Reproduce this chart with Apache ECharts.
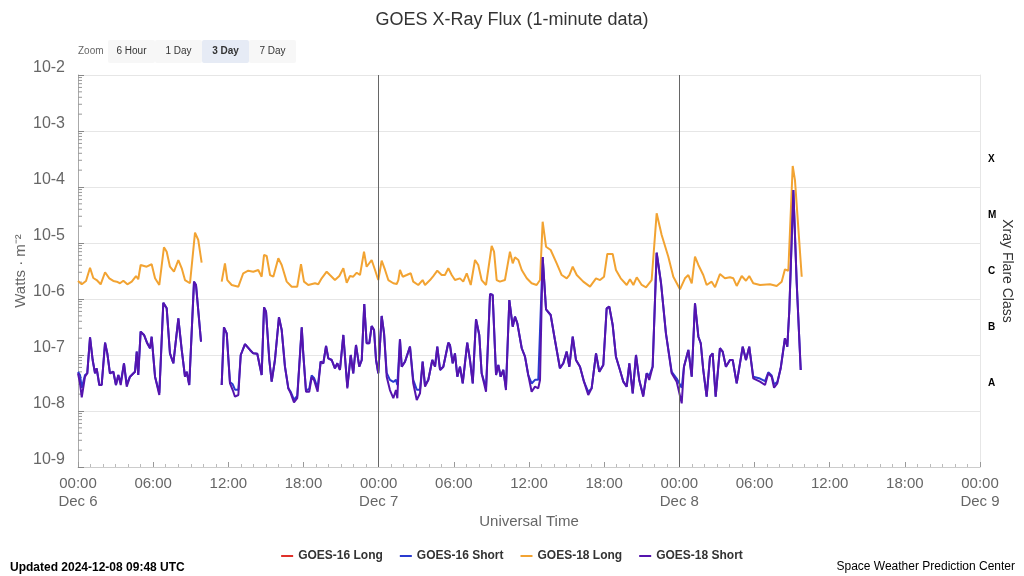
<!DOCTYPE html>
<html>
<head>
<meta charset="utf-8">
<title>GOES X-Ray Flux</title>
<script src="https://cdn.jsdelivr.net/npm/echarts@6/dist/echarts.min.js"></script>
<style>
  html, body { margin: 0; padding: 0; background: #fff; }
  #chart { width: 1024px; height: 576px; }
</style>
</head>
<body>
<div id="chart"></div>
<script>
// hours since Dec 6 00:00 UTC, flux in W/m^2 (null = data gap)
const longHours = [
  0, 0.30, 0.64, 0.96, 1.22, 1.49, 1.81, 2.16, 2.50, 2.82,
  3.09, 3.35, 3.62, 3.94, 4.29, 4.63, 4.81, 5.00, 5.48, 5.88,
  6.15, 6.49, 6.86, 7.08, 7.34, 7.66, 8.01, 8.28, 8.54, 8.94,
  9.34, 9.60, 9.87, 10.6, 11.47, 11.73, 11.92, 12.27, 12.80, 13.19,
  13.59, 13.99, 14.39, 14.66, 14.85, 15.06, 15.33, 15.59, 15.99, 16.26,
  16.66, 17.06, 17.50, 17.80, 18.04, 18.38, 18.92, 19.18, 19.45, 19.85,
  20.11, 20.51, 20.86, 21.18, 21.45, 21.71, 21.97, 22.25, 22.51, 22.83,
  23.04, 23.44, 23.71, 23.97, 24.24, 24.51, 24.77, 25.17, 25.44, 25.57,
  25.70, 25.92, 26.24, 26.56, 26.76, 27.16, 27.51, 27.70, 28.10, 28.36,
  28.68, 29.03, 29.29, 29.56, 29.83, 30.09, 30.49, 30.75, 31.03, 31.35,
  31.69, 31.95, 32.22, 32.57, 33.02, 33.21, 33.42, 33.68, 34.08, 34.48,
  34.70, 34.88, 35.15, 35.42, 35.82, 36.21, 36.61, 36.88, 37.09, 37.36,
  37.73, 38.21, 38.61, 39.01, 39.22, 39.49, 39.81, 40.33, 40.87, 41.35,
  41.67, 41.99, 42.25, 42.68, 42.94, 43.32, 43.80, 44.06, 44.33, 44.60,
  45.00, 45.34, 45.79, 46.19, 46.59, 47.12, 47.52, 48.05, 48.45, 48.72,
  48.99, 49.25, 49.52, 49.91, 50.18, 50.58, 50.85, 51.24, 51.64, 52.04,
  52.31, 52.58, 52.98, 53.32, 53.58, 53.90, 54.44, 55.24, 55.77, 56.17,
  56.43, 56.70, 57.05, 57.23, 57.77
];
const g18Long = [
  2.10e-6, 1.83e-6, 2.10e-6, 3.62e-6, 2.37e-6, 2.18e-6, 1.83e-6, 3.00e-6, 2.34e-6, 2.10e-6,
  2.04e-6, 1.91e-6, 2.12e-6, 1.83e-6, 2.04e-6, 2.57e-6, 2.25e-6, 4.05e-6, 3.77e-6, 4.17e-6,
  2.34e-6, 1.78e-6, 8.38e-6, 7.00e-6, 3.77e-6, 3.07e-6, 4.97e-6, 3.53e-6, 2.18e-6, 1.91e-6,
  1.53e-5, 1.13e-5, 4.45e-6, null, 2.04e-6, 4.34e-6, 2.18e-6, 1.78e-6, 1.66e-6, 2.88e-6,
  3.20e-6, 3.07e-6, 3.30e-6, 2.50e-6, 6.11e-6, 5.86e-6, 2.68e-6, 2.50e-6, 5.33e-6, 4.05e-6,
  2.04e-6, 1.66e-6, 1.66e-6, 4.17e-6, 2.04e-6, 1.78e-6, 1.91e-6, 1.83e-6, 2.34e-6, 3.07e-6,
  2.68e-6, 2.18e-6, 2.57e-6, 3.53e-6, 1.95e-6, 2.57e-6, 2.50e-6, 2.95e-6, 2.68e-6, 7.00e-6,
  3.77e-6, 4.97e-6, 3.30e-6, 2.18e-6, 4.83e-6, 3.30e-6, 2.18e-6, 1.91e-6, 1.85e-6, 2.18e-6,
  3.30e-6, 2.50e-6, 2.68e-6, 2.88e-6, 2.04e-6, 1.78e-6, 2.18e-6, 1.78e-6, 2.18e-6, 2.57e-6,
  3.20e-6, 2.68e-6, 2.68e-6, 3.53e-6, 2.68e-6, 2.18e-6, 2.34e-6, 2.04e-6, 2.88e-6, 1.78e-6,
  4.97e-6, 4.05e-6, 2.18e-6, 1.78e-6, 8.84e-6, 7.00e-6, 2.18e-6, 2.04e-6, 2.18e-6, 7.00e-6,
  4.34e-6, 5.55e-6, 4.97e-6, 3.30e-6, 2.34e-6, 1.91e-6, 1.78e-6, 2.18e-6, 2.40e-5, 8.59e-6,
  7.50e-6, 4.34e-6, 2.68e-6, 2.34e-6, 2.68e-6, 3.77e-6, 2.68e-6, 2.04e-6, 1.66e-6, 2.34e-6,
  2.18e-6, 2.50e-6, 6.36e-6, 6.36e-6, 3.30e-6, 2.34e-6, 1.78e-6, 2.25e-6, 1.78e-6, 2.44e-6,
  1.78e-6, 1.62e-6, 2.18e-6, 3.39e-5, 1.39e-5, 5.69e-6, 2.50e-6, 1.49e-6, 2.34e-6, 2.68e-6,
  1.91e-6, 5.69e-6, 4.05e-6, 2.68e-6, 1.78e-6, 2.04e-6, 1.62e-6, 2.79e-6, 2.34e-6, 2.44e-6,
  2.34e-6, 1.71e-6, 2.57e-6, 2.12e-6, 2.57e-6, 1.91e-6, 1.78e-6, 1.83e-6, 1.71e-6, 2.04e-6,
  3.39e-6, 3.20e-6, 2.37e-4, 1.33e-4, 2.50e-6
];
const g16Long = [];

const shortHours = [
  0, 0.16, 0.30, 0.56, 0.74, 0.96, 1.17, 1.36, 1.49, 1.70,
  1.89, 2.16, 2.34, 2.55, 2.82, 3.03, 3.22, 3.41, 3.67, 3.89,
  4.15, 4.55, 4.69, 4.81, 5.00, 5.27, 5.53, 5.75, 5.88, 6.15,
  6.49, 6.81, 7.08, 7.34, 7.61, 8.01, 8.28, 8.54, 8.68, 8.88,
  9.26, 9.42, 9.82, 10.6, 11.47, 11.65, 11.87, 12.13, 12.35, 12.53,
  12.80, 12.99, 13.33, 13.73, 13.99, 14.31, 14.66, 14.85, 15.01, 15.27,
  15.46, 15.72, 16.04, 16.26, 16.52, 16.79, 16.98, 17.24, 17.50, 17.86,
  17.98, 18.20, 18.46, 18.65, 18.84, 19.13, 19.37, 19.58, 19.80, 19.98,
  20.25, 20.51, 20.70, 20.91, 21.18, 21.50, 21.77, 21.97, 22.19, 22.45,
  22.65, 22.85, 23.04, 23.25, 23.44, 23.63, 23.79, 23.97, 24.24, 24.43,
  24.64, 24.90, 25.17, 25.38, 25.49, 25.70, 25.84, 26.10, 26.50, 26.76,
  27.04, 27.30, 27.51, 27.70, 27.96, 28.28, 28.50, 28.68, 28.90, 29.16,
  29.29, 29.56, 29.69, 29.91, 30.09, 30.28, 30.49, 30.71, 31.07, 31.29,
  31.51, 31.77, 32.03, 32.22, 32.57, 32.89, 33.10, 33.37, 33.55, 33.74,
  33.95, 34.16, 34.43, 34.70, 34.88, 35.07, 35.42, 35.68, 35.94, 36.21,
  36.48, 36.74, 36.88, 37.09, 37.36, 37.73, 38.07, 38.47, 38.74, 39.01,
  39.22, 39.49, 39.75, 40.07, 40.39, 40.73, 41.00, 41.35, 41.61, 41.93,
  42.20, 42.41, 42.68, 42.94, 43.26, 43.53, 43.80, 44.01, 44.28, 44.54,
  44.80, 45.12, 45.39, 45.60, 45.87, 46.19, 46.54, 46.93, 47.39, 47.79,
  48.19, 48.37, 48.72, 48.99, 49.25, 49.52, 49.71, 49.91, 50.18, 50.45,
  50.66, 50.90, 51.24, 51.46, 51.72, 52.04, 52.26, 52.58, 53.06, 53.32,
  53.58, 53.90, 54.44, 54.84, 55.10, 55.37, 55.56, 55.82, 56.09, 56.43,
  56.62, 56.78, 57.10, 57.37, 57.69
];
const g18Short = [
  4.71e-8, 3.12e-8, 1.75e-8, 4.10e-8, 4.71e-8, 2.07e-7, 8.14e-8, 4.71e-8, 5.79e-8, 2.91e-8,
  2.91e-8, 1.66e-7, 1.07e-7, 4.71e-8, 5.03e-8, 2.91e-8, 4.39e-8, 2.91e-8, 7.11e-8, 2.72e-8,
  4.10e-8, 5.03e-8, 1.15e-7, 4.39e-8, 2.61e-7, 2.28e-7, 1.62e-7, 1.32e-7, 2.12e-7, 4.10e-8,
  1.93e-8, 8.59e-7, 6.82e-7, 1.07e-7, 7.11e-8, 4.52e-7, 1.23e-7, 4.10e-8, 5.03e-8, 2.91e-8,
  2.04e-6, 1.78e-6, 1.73e-7, null, 2.91e-8, 3.12e-7, 2.44e-7, 3.12e-8, 2.37e-8, 1.80e-8,
  1.93e-8, 1.00e-7, 1.57e-7, 1.23e-7, 1.07e-7, 1.05e-7, 4.39e-8, 7.11e-7, 5.93e-7, 8.14e-8,
  3.34e-8, 8.14e-8, 4.71e-7, 2.79e-7, 6.18e-8, 2.54e-8, 2.07e-8, 1.43e-8, 1.69e-8, 3.12e-7,
  1.07e-7, 2.21e-8, 2.21e-8, 4.00e-8, 3.58e-8, 2.21e-8, 7.59e-8, 7.11e-8, 1.45e-7, 8.73e-8,
  8.14e-8, 5.79e-8, 7.11e-8, 5.40e-8, 2.28e-7, 2.54e-8, 1.00e-7, 4.71e-8, 1.51e-7, 6.18e-8,
  8.14e-8, 8.14e-7, 1.62e-7, 1.62e-7, 3.29e-7, 2.79e-7, 8.14e-8, 4.71e-8, 4.97e-7, 2.44e-7,
  4.10e-8, 2.37e-8, 1.69e-8, 2.37e-8, 1.69e-8, 1.91e-7, 6.18e-8, 7.59e-8, 1.41e-7, 3.12e-8,
  1.57e-8, 2.07e-8, 7.59e-8, 2.72e-8, 3.58e-8, 8.14e-8, 6.18e-8, 1.41e-7, 5.40e-8, 6.18e-8,
  6.18e-8, 1.66e-7, 1.51e-7, 7.11e-8, 1.07e-7, 4.10e-8, 6.18e-8, 3.12e-8, 1.66e-7, 8.14e-8,
  3.12e-8, 4.34e-7, 2.28e-7, 4.71e-8, 2.21e-8, 1.23e-6, 1.18e-6, 4.39e-8, 6.62e-8, 4.10e-8,
  5.40e-8, 2.37e-8, 9.59e-7, 3.20e-7, 4.83e-7, 3.68e-7, 1.32e-7, 9.33e-8, 4.39e-8, 2.21e-8,
  2.72e-8, 2.54e-8, 3.58e-8, 5.60e-6, 6.50e-7, 5.18e-7, 1.85e-7, 5.79e-8, 7.11e-8, 1.15e-7,
  6.18e-8, 2.12e-7, 8.14e-8, 6.18e-8, 3.34e-8, 1.93e-8, 2.54e-8, 1.07e-7, 5.03e-8, 6.62e-8,
  6.82e-7, 7.29e-7, 3.43e-7, 9.33e-8, 5.40e-8, 3.34e-8, 2.72e-8, 7.11e-8, 2.07e-8, 1.00e-7,
  3.58e-8, 1.80e-8, 4.71e-8, 3.58e-8, 6.18e-8, 6.71e-6, 1.91e-6, 2.44e-7, 4.71e-8, 3.34e-8,
  1.37e-8, 6.18e-8, 1.23e-7, 4.10e-8, 8.38e-7, 2.12e-7, 1.62e-7, 5.40e-8, 1.80e-8, 9.33e-8,
  1.07e-7, 1.80e-8, 1.32e-7, 1.15e-7, 6.18e-8, 8.14e-8, 8.14e-8, 3.12e-8, 1.41e-7, 8.14e-8,
  1.41e-7, 3.84e-8, 3.34e-8, 2.91e-8, 4.71e-8, 4.10e-8, 2.60e-8, 3.12e-8, 5.79e-8, 1.99e-7,
  1.41e-7, 6.36e-7, 8.84e-5, 1.91e-6, 5.40e-8
];
const g16Short = [
  5.00e-8, 4.40e-8, 2.60e-8, 4.40e-8, 4.71e-8, 2.07e-7, 8.14e-8, 4.71e-8, 5.79e-8, 2.91e-8,
  2.91e-8, 1.66e-7, 1.07e-7, 4.71e-8, 5.03e-8, 2.91e-8, 4.39e-8, 3.20e-8, 7.11e-8, 3.00e-8,
  4.10e-8, 5.03e-8, 1.15e-7, 4.39e-8, 2.61e-7, 2.28e-7, 1.62e-7, 1.32e-7, 2.12e-7, 4.10e-8,
  2.10e-8, 8.59e-7, 6.82e-7, 1.07e-7, 7.11e-8, 4.52e-7, 1.23e-7, 4.10e-8, 5.03e-8, 2.91e-8,
  2.04e-6, 1.78e-6, 1.73e-7, null, 2.91e-8, 3.12e-7, 2.44e-7, 3.30e-8, 3.00e-8, 2.40e-8,
  2.40e-8, 1.00e-7, 1.57e-7, 1.23e-7, 1.07e-7, 1.05e-7, 4.39e-8, 7.11e-7, 5.93e-7, 8.14e-8,
  3.34e-8, 8.14e-8, 4.71e-7, 2.79e-7, 6.18e-8, 2.54e-8, 2.20e-8, 1.60e-8, 1.85e-8, 3.12e-7,
  1.07e-7, 2.30e-8, 2.50e-8, 4.30e-8, 3.90e-8, 2.60e-8, 7.59e-8, 7.11e-8, 1.45e-7, 8.73e-8,
  8.14e-8, 5.79e-8, 7.11e-8, 5.40e-8, 2.28e-7, 2.70e-8, 1.00e-7, 4.71e-8, 1.51e-7, 6.18e-8,
  8.14e-8, 8.14e-7, 1.62e-7, 1.62e-7, 3.29e-7, 2.79e-7, 8.14e-8, 4.71e-8, 4.97e-7, 2.44e-7,
  4.80e-8, 3.60e-8, 3.30e-8, 3.60e-8, 2.90e-8, 1.91e-7, 6.18e-8, 7.59e-8, 1.41e-7, 3.60e-8,
  2.40e-8, 2.40e-8, 7.59e-8, 2.90e-8, 3.58e-8, 8.14e-8, 6.18e-8, 1.41e-7, 5.40e-8, 6.18e-8,
  6.18e-8, 1.66e-7, 1.51e-7, 7.11e-8, 1.07e-7, 4.10e-8, 6.18e-8, 3.12e-8, 1.66e-7, 8.14e-8,
  3.12e-8, 4.34e-7, 2.28e-7, 4.71e-8, 2.60e-8, 1.23e-6, 1.18e-6, 4.39e-8, 6.62e-8, 4.10e-8,
  5.40e-8, 2.60e-8, 9.59e-7, 3.20e-7, 4.83e-7, 3.68e-7, 1.32e-7, 9.33e-8, 4.39e-8, 3.10e-8,
  3.60e-8, 3.60e-8, 3.58e-8, 5.60e-6, 6.50e-7, 5.18e-7, 1.85e-7, 5.79e-8, 7.11e-8, 1.15e-7,
  6.18e-8, 2.12e-7, 8.14e-8, 6.18e-8, 3.34e-8, 2.20e-8, 2.54e-8, 1.07e-7, 5.03e-8, 6.62e-8,
  6.82e-7, 7.29e-7, 3.43e-7, 9.33e-8, 5.40e-8, 3.34e-8, 2.72e-8, 7.11e-8, 2.07e-8, 1.00e-7,
  3.58e-8, 1.90e-8, 4.71e-8, 4.30e-8, 6.18e-8, 6.71e-6, 1.91e-6, 2.44e-7, 5.00e-8, 3.80e-8,
  2.60e-8, 6.18e-8, 1.23e-7, 4.10e-8, 8.38e-7, 2.12e-7, 1.62e-7, 5.40e-8, 1.80e-8, 9.33e-8,
  1.07e-7, 1.80e-8, 1.32e-7, 1.15e-7, 6.18e-8, 8.14e-8, 8.14e-8, 3.12e-8, 1.41e-7, 8.14e-8,
  1.41e-7, 4.10e-8, 3.80e-8, 3.40e-8, 4.90e-8, 4.30e-8, 3.00e-8, 3.30e-8, 5.79e-8, 1.99e-7,
  1.41e-7, 6.36e-7, 8.84e-5, 1.91e-6, 5.40e-8
];

// axis labels
const dayNames = ['Dec 6', 'Dec 7', 'Dec 8', 'Dec 9'];
const flareClasses = ['', 'A', 'B', 'C', 'M', 'X', ''];
const dayLines = [24, 48];
const decades = [-9, -8, -7, -6, -5, -4, -3];
const zoomButtons = ['6 Hour', '1 Day', '3 Day', '7 Day'];
const selectedZoom = '3 Day';

const FONT = '"Liberation Sans", Arial, sans-serif';

function toPairs(hours, vals) {
  return hours.map((h, i) => [h, vals[i] == null ? '-' : vals[i]]);
}

// log spaced minor ticks on the flux axis
const minorTickVals = [];
decades.forEach((d) => {
  for (let k = 2; k <= 9; k++) {
    minorTickVals.push([0, k * Math.pow(10, d)]);
  }
});

const chartInstance = echarts.init(document.getElementById('chart'));

const graphics = [
  {
    type: 'text', left: 10, top: 562,
    style: { text: 'Updated 2024-12-08 09:48 UTC', font: 'bold 12px ' + FONT, fill: '#000' }
  },
  {
    type: 'text', right: 9, top: 561,
    style: { text: 'Space Weather Prediction Center', font: '12px ' + FONT, fill: '#000' }
  },
  {
    type: 'text', left: 78, top: 46,
    style: { text: 'Zoom', font: '10px ' + FONT, fill: '#666' }
  }
];
zoomButtons.forEach((b, i) => {
  const x = 108 + i * 47;
  const sel = b === selectedZoom;
  graphics.push({
    type: 'rect', shape: { x: x, y: 40, width: 47, height: 23, r: 2 },
    style: { fill: sel ? '#e6ebf5' : '#f7f7f7' }
  });
  graphics.push({
    type: 'text', x: x + 23.5, y: 51.5,
    style: {
      text: b, font: (sel ? 'bold ' : '') + '10px ' + FONT, fill: '#333',
      align: 'center', verticalAlign: 'middle'
    }
  });
});

const lineBase = {
  type: 'line',
  showSymbol: false,
  symbol: 'none',
  connectNulls: false,
  silent: true
};

const option = {
  animation: false,
  backgroundColor: '#fff',
  textStyle: { fontFamily: FONT },
  title: {
    text: 'GOES X-Ray Flux (1-minute data)',
    left: 'center',
    top: 6,
    textStyle: { fontSize: 18, fontWeight: 'normal', color: '#333', fontFamily: FONT }
  },
  legend: {
    data: ['GOES-16 Long', 'GOES-16 Short', 'GOES-18 Long', 'GOES-18 Short'],
    left: 'center',
    top: 545,
    icon: 'rect',
    itemWidth: 12,
    itemHeight: 2,
    itemGap: 17,
    textStyle: { fontSize: 12, fontWeight: 'bold', color: '#333', fontFamily: FONT }
  },
  grid: { left: 78, right: 44, top: 75, bottom: 109, outerBoundsMode: 'none' },
  xAxis: {
    type: 'value',
    min: 0,
    max: 72,
    interval: 6,
    axisLine: { show: true, lineStyle: { color: '#ccc' } },
    axisTick: { show: true, inside: true, length: 5, lineStyle: { color: '#999' } },
    minorTick: { show: true, splitNumber: 6, length: 3, lineStyle: { color: '#bbb' } },
    splitLine: { show: false },
    axisLabel: {
      color: '#666', fontSize: 15, margin: 8, lineHeight: 18,
      showMinLabel: true, showMaxLabel: true,
      formatter: (v) => {
        const h = v % 24;
        const hh = (h < 10 ? '0' : '') + h + ':00';
        return h === 0 ? hh + '\n' + dayNames[v / 24] : hh;
      }
    },
    name: 'Universal Time',
    nameLocation: 'middle',
    nameGap: 47,
    nameMoveOverlap: false,
    nameTextStyle: { color: '#666', fontSize: 15 }
  },
  yAxis: [
    {
      type: 'log',
      logBase: 10,
      min: 1e-9,
      max: 1e-2,
      splitNumber: 7,
      axisLine: { show: true, lineStyle: { color: '#aaa' } },
      axisTick: { show: true, inside: true, length: 6, lineStyle: { color: '#888' } },
      splitLine: { show: true, lineStyle: { color: '#e6e6e6' } },
      axisLabel: {
        color: '#666', fontSize: 16, margin: 13, verticalAlign: 'bottom', padding: [0, 0, -1, 0],
        formatter: (v) => '10' + Math.round(Math.log10(v))
      },
      name: 'Watts · m⁻²',
      nameLocation: 'middle',
      nameGap: 50,
      nameMoveOverlap: false,
      nameRotate: 90,
      nameTextStyle: { color: '#666', fontSize: 15 }
    },
    {
      type: 'category',
      position: 'right',
      data: flareClasses,
      boundaryGap: true,
      axisLine: { show: true, lineStyle: { color: '#e6e6e6' } },
      axisTick: { show: false },
      splitLine: { show: false },
      axisLabel: { interval: 0, color: '#000', fontSize: 10, fontWeight: 'bold', margin: 8 },
      name: 'Xray Flare Class',
      nameLocation: 'middle',
      nameGap: 20,
      nameMoveOverlap: false,
      nameRotate: -90,
      nameTextStyle: { color: '#333', fontSize: 14 }
    }
  ],
  series: [
    Object.assign({}, lineBase, {
      name: 'GOES-16 Long', color: '#e0302a',
      lineStyle: { width: 2, color: '#e0302a' },
      data: g16Long
    }),
    Object.assign({}, lineBase, {
      name: 'GOES-16 Short', color: '#2a3bd0',
      lineStyle: { width: 2, color: '#2a3bd0' },
      data: toPairs(shortHours, g16Short)
    }),
    Object.assign({}, lineBase, {
      name: 'GOES-18 Long', color: '#f2a332',
      lineStyle: { width: 2, color: '#f2a332' },
      data: toPairs(longHours, g18Long),
      markLine: {
        silent: true,
        symbol: 'none',
        label: { show: false },
        lineStyle: { color: '#666', width: 1, type: 'solid' },
        data: dayLines.map((d) => ({ xAxis: d }))
      }
    }),
    Object.assign({}, lineBase, {
      name: 'GOES-18 Short', color: '#5514ae',
      lineStyle: { width: 2, color: '#5514ae' },
      data: toPairs(shortHours, g18Short)
    }),
    {
      type: 'custom',
      silent: true,
      data: minorTickVals,
      renderItem: (params, api) => {
        const p = api.coord([api.value(0), api.value(1)]);
        return {
          type: 'line',
          shape: { x1: p[0], y1: p[1], x2: p[0] + 4, y2: p[1] },
          style: { stroke: '#999', lineWidth: 1 }
        };
      }
    }
  ],
  graphic: graphics
};

chartInstance.setOption(option);
</script>
</body>
</html>
